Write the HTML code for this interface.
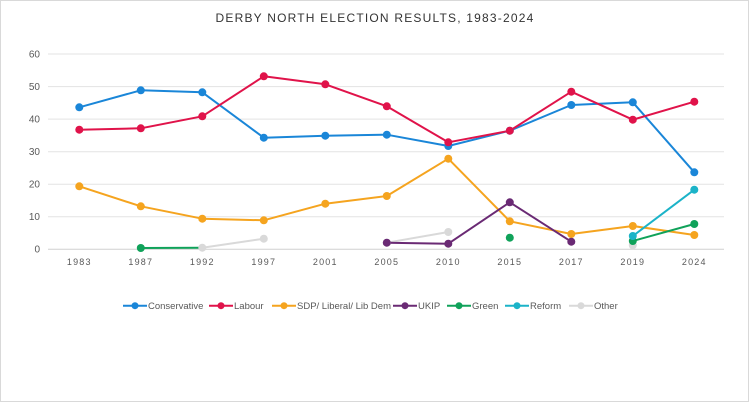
<!DOCTYPE html>
<html><head><meta charset="utf-8"><style>
html,body{margin:0;padding:0;background:#fff;}
svg{display:block;font-family:"Liberation Sans",sans-serif;}
</style></head><body>
<svg width="750" height="403" viewBox="0 0 750 403" xmlns="http://www.w3.org/2000/svg">
<rect x="0.5" y="0.5" width="748" height="401" fill="#fff" stroke="#d9d9d9"/>
<text x="375" y="22" text-anchor="middle" font-size="12" fill="#333" letter-spacing="1.2">DERBY NORTH ELECTION RESULTS, 1983-2024</text>
<g stroke="#e3e3e3" stroke-width="1">
<line x1="48" x2="724" y1="54" y2="54"/><line x1="48" x2="724" y1="86.6" y2="86.6"/><line x1="48" x2="724" y1="119.1" y2="119.1"/><line x1="48" x2="724" y1="151.7" y2="151.7"/><line x1="48" x2="724" y1="184.2" y2="184.2"/><line x1="48" x2="724" y1="216.8" y2="216.8"/>
</g>
<line x1="48" x2="724" y1="249.3" y2="249.3" stroke="#d0d0d0"/>
<g font-size="10" fill="#595959" text-anchor="end">
<text x="40" y="57.5">60</text><text x="40" y="90">50</text><text x="40" y="122.5">40</text><text x="40" y="155">30</text><text x="40" y="187.5">20</text><text x="40" y="220">10</text><text x="40" y="252.5">0</text>
</g>
<g font-size="9" fill="#595959" text-anchor="middle" letter-spacing="1.2">
<text x="79.3" y="265">1983</text><text x="140.8" y="265">1987</text><text x="202.3" y="265">1992</text><text x="263.8" y="265">1997</text><text x="325.3" y="265">2001</text><text x="386.8" y="265">2005</text><text x="448.3" y="265">2010</text><text x="509.8" y="265">2015</text><text x="571.3" y="265">2017</text><text x="632.8" y="265">2019</text><text x="694.3" y="265">2024</text>
</g>
<g fill="none" stroke-width="2" stroke-linejoin="round">
<polyline stroke="#d9d9d9" points="202.3,247.7 263.8,238.7"/>
<polyline stroke="#d9d9d9" points="386.8,242.7 448.3,232"/>
<polyline stroke="#1a86d8" points="79.3,107.3 140.8,90.3 202.3,92.3 263.8,137.7 325.3,135.7 386.8,134.7 448.3,146 509.8,130.7 571.3,105 632.8,102.3 694.3,172.3"/>
<polyline stroke="#e0134a" points="79.3,129.7 140.8,128.3 202.3,116.3 263.8,76.3 325.3,84.3 386.8,106.3 448.3,142.3 509.8,130.7 571.3,91.7 632.8,119.7 694.3,101.7"/>
<polyline stroke="#f5a41f" points="79.3,186.3 140.8,206.3 202.3,218.7 263.8,220.3 325.3,203.7 386.8,196 448.3,158.7 509.8,221.3 571.3,234 632.8,226 694.3,235"/>
<polyline stroke="#6a2a74" points="386.8,242.7 448.3,243.7 509.8,202.3 571.3,241.7"/>
<polyline stroke="#10a25a" points="140.8,248 202.3,247.7"/>
<polyline stroke="#10a25a" points="632.8,241 694.3,224"/>
<polyline stroke="#1bb3c8" points="632.8,236 694.3,189.7"/>
</g>
<g fill="#d9d9d9"><circle cx="202.3" cy="247.7" r="4"/><circle cx="263.8" cy="238.7" r="4"/><circle cx="386.8" cy="242.7" r="4"/><circle cx="448.3" cy="232" r="4"/><circle cx="632.8" cy="245.3" r="4"/></g>
<g fill="#1a86d8"><circle cx="79.3" cy="107.3" r="4"/><circle cx="140.8" cy="90.3" r="4"/><circle cx="202.3" cy="92.3" r="4"/><circle cx="263.8" cy="137.7" r="4"/><circle cx="325.3" cy="135.7" r="4"/><circle cx="386.8" cy="134.7" r="4"/><circle cx="448.3" cy="146" r="4"/><circle cx="509.8" cy="130.7" r="4"/><circle cx="571.3" cy="105" r="4"/><circle cx="632.8" cy="102.3" r="4"/><circle cx="694.3" cy="172.3" r="4"/></g>
<g fill="#e0134a"><circle cx="79.3" cy="129.7" r="4"/><circle cx="140.8" cy="128.3" r="4"/><circle cx="202.3" cy="116.3" r="4"/><circle cx="263.8" cy="76.3" r="4"/><circle cx="325.3" cy="84.3" r="4"/><circle cx="386.8" cy="106.3" r="4"/><circle cx="448.3" cy="142.3" r="4"/><circle cx="509.8" cy="130.7" r="4"/><circle cx="571.3" cy="91.7" r="4"/><circle cx="632.8" cy="119.7" r="4"/><circle cx="694.3" cy="101.7" r="4"/></g>
<g fill="#f5a41f"><circle cx="79.3" cy="186.3" r="4"/><circle cx="140.8" cy="206.3" r="4"/><circle cx="202.3" cy="218.7" r="4"/><circle cx="263.8" cy="220.3" r="4"/><circle cx="325.3" cy="203.7" r="4"/><circle cx="386.8" cy="196" r="4"/><circle cx="448.3" cy="158.7" r="4"/><circle cx="509.8" cy="221.3" r="4"/><circle cx="571.3" cy="234" r="4"/><circle cx="632.8" cy="226" r="4"/><circle cx="694.3" cy="235" r="4"/></g>
<g fill="#6a2a74"><circle cx="386.8" cy="242.7" r="4"/><circle cx="448.3" cy="243.7" r="4"/><circle cx="509.8" cy="202.3" r="4"/><circle cx="571.3" cy="241.7" r="4"/></g>
<g fill="#10a25a"><circle cx="140.8" cy="248" r="4"/><circle cx="509.8" cy="237.7" r="4"/><circle cx="632.8" cy="241" r="4"/><circle cx="694.3" cy="224" r="4"/></g>
<g fill="#1bb3c8"><circle cx="632.8" cy="236" r="4"/><circle cx="694.3" cy="189.7" r="4"/></g>
<g font-size="9.5" fill="#595959">
<line x1="123" x2="147" y1="305.7" y2="305.7" stroke="#1a86d8" stroke-width="2"/><circle cx="135" cy="305.7" r="3.5" fill="#1a86d8"/><text x="148" y="309">Conservative</text>
<line x1="209" x2="233" y1="305.7" y2="305.7" stroke="#e0134a" stroke-width="2"/><circle cx="221" cy="305.7" r="3.5" fill="#e0134a"/><text x="234" y="309">Labour</text>
<line x1="272" x2="296" y1="305.7" y2="305.7" stroke="#f5a41f" stroke-width="2"/><circle cx="284" cy="305.7" r="3.5" fill="#f5a41f"/><text x="297" y="309">SDP/ Liberal/ Lib Dem</text>
<line x1="393" x2="417" y1="305.7" y2="305.7" stroke="#6a2a74" stroke-width="2"/><circle cx="405" cy="305.7" r="3.5" fill="#6a2a74"/><text x="418" y="309">UKIP</text>
<line x1="447" x2="471" y1="305.7" y2="305.7" stroke="#10a25a" stroke-width="2"/><circle cx="459" cy="305.7" r="3.5" fill="#10a25a"/><text x="472" y="309">Green</text>
<line x1="505" x2="529" y1="305.7" y2="305.7" stroke="#1bb3c8" stroke-width="2"/><circle cx="517" cy="305.7" r="3.5" fill="#1bb3c8"/><text x="530" y="309">Reform</text>
<line x1="569" x2="593" y1="305.7" y2="305.7" stroke="#d9d9d9" stroke-width="2"/><circle cx="581" cy="305.7" r="3.5" fill="#d9d9d9"/><text x="594" y="309">Other</text>
</g>
</svg>
</body></html>
